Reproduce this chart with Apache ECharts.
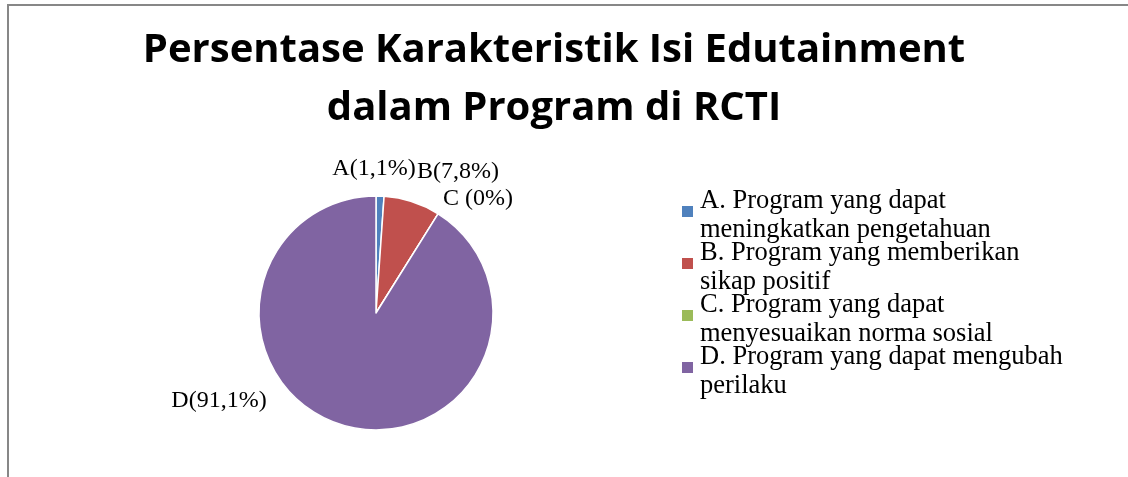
<!DOCTYPE html>
<html>
<head>
<meta charset="utf-8">
<script src="https://cdn.jsdelivr.net/npm/echarts@6/dist/echarts.min.js"></script>
<style>
  html, body { margin: 0; padding: 0; background: #fff; }
  #main { width: 1128px; height: 477px; }
</style>
</head>
<body>
<div id="main"></div>
<script>
// data
const categories = [
    'A. Program yang dapat\nmeningkatkan pengetahuan',
    'B. Program yang memberikan\nsikap positif',
    'C. Program yang dapat\nmenyesuaikan norma sosial',
    'D. Program yang dapat mengubah\nperilaku'
]
const percentages = [1.1, 7.8, 0, 91.1]
const sliceLabels = ['A(1,1%)', 'B(7,8%)', 'C (0%)', 'D(91,1%)']

const colors = ['#4F81BD', '#C0504D', '#9BBB59', '#8064A2']
const pieCenter = [376, 313]
const pieRadius = 117
// label anchor offsets from pie center (Excel put them by hand)
const labelOffsets = [[-2, -144], [82, -141], [102, -114], [-157, 88]]

const chartDom = document.getElementById('main')
const myChart = echarts.init(chartDom, null, { renderer: 'canvas' })

const serif = '"Liberation Serif", "Times New Roman", serif'

const option = {
    backgroundColor: '#fff',
    animation: false,
    color: colors,
    title: {
        text: 'Persentase Karakteristik Isi Edutainment\ndalam Program di RCTI',
        left: 554,
        top: 22,
        padding: 0,
        textAlign: 'center',
        textStyle: {
            fontFamily: '"Open Sans", sans-serif',
            fontWeight: 'bold',
            fontSize: 40,
            lineHeight: 58,
            color: '#000'
        }
    },
    legend: {
        orient: 'vertical',
        left: 682,
        top: 186,
        padding: 0,
        itemWidth: 11,
        itemHeight: 19,
        itemGap: -7,
        // square sits in the top of the icon box so the text hangs a bit lower
        icon: 'path://M0,0L11,0L11,11L0,11Z M0,19L11,19',
        itemStyle: { borderWidth: 0 },
        selectedMode: false,
        textStyle: {
            fontFamily: serif,
            fontSize: 26.5,
            lineHeight: 29.5,
            color: '#000',
            padding: [0, 0, 0, 2]
        },
        data: categories
    },
    graphic: [{
        type: 'polyline',
        shape: { points: [[8, 477], [8, 5], [1128, 5]] },
        style: { stroke: '#878787', lineWidth: 2, fill: null },
        silent: true
    }],
    series: [{
        type: 'pie',
        center: pieCenter,
        radius: pieRadius,
        startAngle: 90,
        clockwise: true,
        avoidLabelOverlap: false,
        itemStyle: { borderColor: '#fff', borderWidth: 1.5 },
        label: {
            show: true,
            position: 'outside',
            fontFamily: serif,
            fontSize: 24,
            color: '#000',
            formatter: (p) => sliceLabels[p.dataIndex]
        },
        labelLine: { show: false },
        labelLayout: (p) => ({
            x: pieCenter[0] + labelOffsets[p.dataIndex][0],
            y: pieCenter[1] + labelOffsets[p.dataIndex][1],
            align: 'center',
            verticalAlign: 'middle'
        }),
        emphasis: { disabled: true },
        data: categories.map((name, i) => ({ name: name, value: percentages[i] }))
    }]
}

myChart.setOption(option)
</script>
</body>
</html>
